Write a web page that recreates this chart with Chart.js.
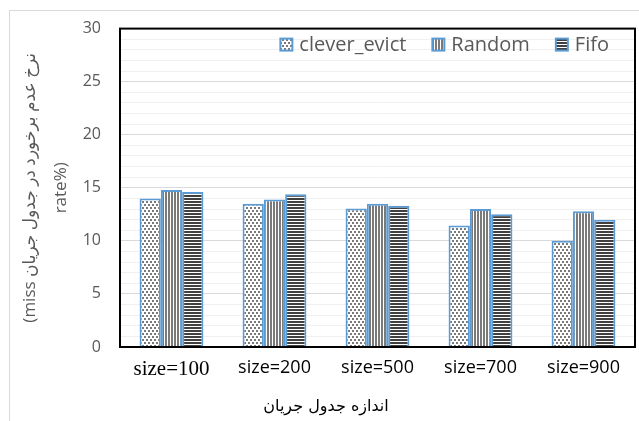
<!DOCTYPE html>
<html>
<head>
<meta charset="utf-8">
<script src="https://cdn.jsdelivr.net/npm/chart.js@4"></script>
<style>
  html, body { margin: 0; padding: 0; background: #fff; }
  #wrap { width: 639px; height: 421px; position: relative; }
</style>
</head>
<body>
<div id="wrap"><canvas id="chart" width="639" height="421"></canvas></div>
<script>
// 数据
const categories = ['size=100', 'size=200', 'size=500', 'size=700', 'size=900'];
const cleverEvict = [14.0, 13.5, 13.05, 11.45, 10.0];
const randomVals = [14.8, 13.9, 13.5, 13.0, 12.8];
const fifoVals = [14.6, 14.4, 13.3, 12.5, 12.0];
const yTicks = [0, 5, 10, 15, 20, 25, 30];

// 填充图案
function makePattern(type) {
    const c = document.createElement('canvas');
    const g = c.getContext('2d');
    if (type === 'dots') {
        c.width = 4; c.height = 6;
        g.fillStyle = '#fff'; g.fillRect(0, 0, 4, 6);
        g.fillStyle = '#7a7a7a';
        g.fillRect(0, 0, 2, 2);
        g.fillRect(2, 3, 2, 2);
    } else if (type === 'vlines') {
        c.width = 3; c.height = 1;
        g.fillStyle = '#fff'; g.fillRect(0, 0, 3, 1);
        g.fillStyle = '#7a7a7a'; g.fillRect(0, 0, 2, 1);
    } else {
        c.width = 1; c.height = 3;
        g.fillStyle = '#fff'; g.fillRect(0, 0, 1, 3);
        g.fillStyle = '#404040'; g.fillRect(0, 0, 1, 2);
    }
    return g.createPattern(c, 'repeat');
}

const blue = '#5B9BD5';

// 外框和绘图区边框
const framePlugin = {
    id: 'frame',
    beforeDraw(chart) {
        const ctx = chart.ctx;
        ctx.save();
        ctx.strokeStyle = '#d9d9d9';
        ctx.lineWidth = 1;
        ctx.strokeRect(9.5, 10.5, 800, 600);
        ctx.restore();
    },
    afterDatasetsDraw(chart) {
        const a = chart.chartArea;
        const ctx = chart.ctx;
        ctx.save();
        ctx.strokeStyle = '#000';
        ctx.lineWidth = 2;
        ctx.strokeRect(a.left, a.top, a.right - a.left, a.bottom - a.top);
        ctx.restore();
    }
};

// 图例画在绘图区内部右上角
const insideLegend = {
    id: 'insideLegend',
    afterDraw(chart) {
        const ctx = chart.ctx;
        const a = chart.chartArea;
        const box = 12, gapText = 7, gapItem = 26;
        ctx.save();
        ctx.font = '20px "Open Sans"';
        ctx.textBaseline = 'middle';
        const items = chart.data.datasets.map(ds => ({
            label: ds.label, fill: ds.backgroundColor, stroke: ds.borderColor,
            w: box + gapText + ctx.measureText(ds.label).width
        }));
        const total = items.reduce((s, it) => s + it.w, 0) + gapItem * (items.length - 1);
        let x = a.right - 26 - total;
        const y = a.top + 16;
        items.forEach(it => {
            ctx.fillStyle = it.fill;
            ctx.fillRect(x, y - box / 2, box, box);
            ctx.strokeStyle = it.stroke;
            ctx.lineWidth = 2;
            ctx.strokeRect(x, y - box / 2, box, box);
            ctx.fillStyle = '#595959';
            ctx.fillText(it.label, x + box + gapText, y + 1);
            x += it.w + gapItem;
        });
        ctx.restore();
    }
};

// 横轴标题（原图中略偏左）
const xTitlePlugin = {
    id: 'xTitle',
    afterDraw(chart) {
        const ctx = chart.ctx;
        ctx.save();
        ctx.font = '16px "DejaVu Sans"';
        ctx.fillStyle = '#000';
        ctx.textAlign = 'center';
        ctx.textBaseline = 'middle';
        ctx.fillText('اندازه جدول جریان', 326, 407);
        ctx.restore();
    }
};

new Chart(document.getElementById('chart').getContext('2d'), {
    type: 'bar',
    data: {
        labels: categories,
        datasets: [
            { label: 'clever_evict', data: cleverEvict, backgroundColor: makePattern('dots'), borderColor: blue, borderWidth: 2 },
            { label: 'Random', data: randomVals, backgroundColor: makePattern('vlines'), borderColor: blue, borderWidth: 2 },
            { label: 'Fifo', data: fifoVals, backgroundColor: makePattern('hlines'), borderColor: blue, borderWidth: 2 }
        ]
    },
    options: {
        responsive: false,
        animation: false,
        layout: { padding: { left: 0, right: 4, top: 28, bottom: 0 } },
        datasets: { bar: { barPercentage: 1.0, categoryPercentage: 0.62 } },
        plugins: {
            tooltip: { enabled: false },
            legend: { display: false },
            title: { display: false }
        },
        scales: {
            x: {
                grid: { display: false },
                border: { display: false },
                ticks: {
                    color: '#000',
                    padding: 2,
                    maxRotation: 0,
                    font: (ctx) => ctx.index === 0
                        ? { family: 'Liberation Serif', size: 21 }
                        : { family: 'Open Sans', size: 18 }
                },
                afterFit(scale) { scale.height = 74; }
            },
            y: {
                min: yTicks[0],
                max: yTicks[yTicks.length - 1],
                border: { display: false },
                grid: {
                    drawTicks: false,
                    color: (ctx) => ctx.tick && ctx.tick.value % 5 === 0 ? '#d9d9d9' : '#f0f0f0'
                },
                ticks: {
                    stepSize: 1,
                    maxTicksLimit: 31,
                    autoSkip: false,
                    padding: 19,
                    color: '#595959',
                    font: { family: 'Open Sans', size: 16 },
                    callback: (v) => yTicks.includes(v) ? String(v) : ''
                },
                title: {
                    display: true,
                    text: ['(miss نرخ عدم برخورد در جدول جریان', 'rate%)'],
                    color: '#595959',
                    font: { family: 'Open Sans, DejaVu Sans', size: 17, lineHeight: 1.85 },
                    padding: { top: 14, bottom: 0 }
                },
                afterFit(scale) { scale.width = 120; }
            }
        }
    },
    plugins: [framePlugin, insideLegend, xTitlePlugin]
});
</script>
</body>
</html>
